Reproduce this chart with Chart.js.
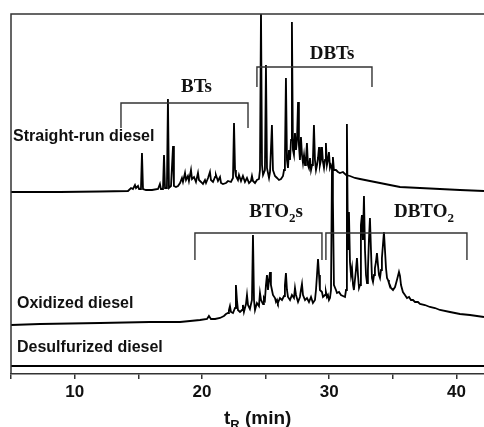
<!DOCTYPE html>
<html>
<head>
<meta charset="utf-8">
<script src="https://cdn.jsdelivr.net/npm/chart.js@4.4.1/dist/chart.umd.min.js"></script>
<style>
html, body { margin: 0; padding: 0; background: #fff; }
#wrap { width: 484px; height: 427px; position: relative; }
</style>
</head>
<body>
<div id="wrap"><canvas id="gc"></canvas></div>
<script>
// Retention time (min) and detector response above each trace's own baseline
const straightRunTime = [5.00, 8.85, 11.99, 14.19, 14.43, 14.58, 14.74, 14.82, 14.98, 15.06,
  15.21, 15.29, 15.37, 15.61, 16.08, 16.55, 16.70, 16.78, 16.94, 17.02,
  17.10, 17.25, 17.33, 17.41, 17.57, 17.73, 17.80, 17.96, 18.12, 18.28,
  18.43, 18.51, 18.67, 18.75, 18.90, 18.98, 19.14, 19.22, 19.38, 19.53,
  19.69, 19.77, 19.93, 20.08, 20.24, 20.32, 20.48, 20.63, 20.71, 20.87,
  21.03, 21.10, 21.26, 21.42, 21.50, 21.65, 21.89, 22.05, 22.28, 22.44,
  22.52, 22.60, 22.67, 22.83, 22.91, 23.07, 23.22, 23.38, 23.54, 23.70,
  23.85, 23.93, 24.01, 24.17, 24.32, 24.48, 24.56, 24.64, 24.72, 24.80,
  24.95, 25.03, 25.11, 25.27, 25.35, 25.50, 25.58, 25.74, 25.90, 26.05,
  26.21, 26.37, 26.45, 26.52, 26.60, 26.68, 26.76, 26.84, 26.92, 27.00,
  27.07, 27.15, 27.23, 27.31, 27.39, 27.47, 27.55, 27.62, 27.70, 27.78,
  27.86, 27.94, 28.02, 28.10, 28.17, 28.25, 28.33, 28.41, 28.49, 28.57,
  28.65, 28.72, 28.80, 28.88, 28.96, 29.04, 29.12, 29.20, 29.27, 29.35,
  29.43, 29.51, 29.59, 29.67, 29.74, 29.82, 29.90, 29.98, 30.06, 30.14,
  30.22, 30.29, 30.37, 30.53, 30.69, 30.84, 31.08, 31.32, 31.63, 32.02,
  32.42, 33.20, 33.99, 34.77, 35.56, 37.13, 38.70, 40.27, 42.16];
const straightRunSignal = [0, 0, 0.5, 1, 4, 3, 7, 4, 6, 3,
  3, 39, 3, 2, 2, 3, 8, 3, 3, 37,
  4, 4, 93, 4, 6, 46, 6, 5, 6, 9,
  14, 10, 19, 12, 16, 11, 22, 13, 15, 10,
  19, 12, 10, 8, 12, 9, 14, 20, 12, 10,
  15, 17, 11, 15, 9, 8, 9, 11, 10, 14,
  69, 22, 16, 12, 17, 11, 16, 10, 14, 9,
  11, 16, 11, 9, 12, 13, 22, 182, 27, 17,
  22, 127, 24, 14, 20, 67, 22, 16, 14, 12,
  13, 16, 22, 32, 114, 32, 24, 42, 32, 52,
  170, 42, 37, 59, 42, 52, 90, 47, 32, 55,
  37, 29, 37, 27, 32, 49, 27, 24, 34, 22,
  27, 32, 67, 32, 22, 27, 34, 45, 27, 32,
  45, 30, 24, 32, 49, 27, 32, 40, 24, 27,
  24, 35, 22, 22, 20, 19, 20, 17, 16, 14,
  13, 11, 9, 7, 5, 4, 3, 2, 1];

const oxidizedTime = [5.00, 7.28, 11.99, 15.92, 18.28, 19.85, 20.40, 20.55, 20.71, 21.03,
  21.42, 21.73, 21.89, 22.05, 22.12, 22.20, 22.28, 22.44, 22.60, 22.67,
  22.75, 22.83, 22.99, 23.15, 23.22, 23.30, 23.46, 23.54, 23.62, 23.77,
  23.93, 24.01, 24.09, 24.17, 24.32, 24.48, 24.56, 24.64, 24.80, 24.87,
  24.95, 25.03, 25.11, 25.19, 25.27, 25.35, 25.42, 25.50, 25.58, 25.74,
  25.82, 25.90, 25.97, 26.13, 26.29, 26.45, 26.52, 26.60, 26.68, 26.76,
  26.92, 27.07, 27.23, 27.31, 27.39, 27.55, 27.70, 27.78, 27.86, 27.94,
  28.10, 28.25, 28.41, 28.57, 28.72, 28.88, 28.96, 29.04, 29.12, 29.20,
  29.27, 29.43, 29.51, 29.67, 29.74, 29.82, 29.90, 29.98, 30.06, 30.14,
  30.22, 30.29, 30.37, 30.53, 30.61, 30.77, 30.92, 31.08, 31.24, 31.32,
  31.39, 31.47, 31.55, 31.63, 31.71, 31.79, 31.87, 31.94, 32.02, 32.10,
  32.18, 32.26, 32.34, 32.42, 32.49, 32.57, 32.65, 32.73, 32.81, 32.89,
  32.97, 33.04, 33.12, 33.20, 33.28, 33.36, 33.44, 33.52, 33.59, 33.67,
  33.75, 33.83, 33.91, 33.99, 34.07, 34.14, 34.22, 34.30, 34.38, 34.46,
  34.54, 34.62, 34.69, 34.77, 34.85, 35.01, 35.17, 35.32, 35.48, 35.56,
  35.64, 35.79, 35.95, 36.11, 36.27, 36.42, 36.58, 36.74, 36.97, 37.13,
  37.52, 37.91, 38.31, 38.70, 39.49, 40.27, 41.06, 42.16];
const oxidizedSignal = [-1, 0, 1, 2, 2, 4, 5, 8, 5, 5,
  6, 8, 10, 11, 14, 18, 12, 11, 16, 39,
  24, 14, 12, 14, 19, 12, 20, 29, 19, 15,
  24, 89, 24, 14, 21, 18, 31, 24, 20, 26,
  24, 39, 49, 34, 44, 52, 39, 34, 29, 26,
  22, 24, 21, 26, 24, 28, 39, 51, 34, 27,
  24, 29, 26, 36, 29, 22, 27, 34, 40, 29,
  24, 26, 22, 27, 21, 24, 34, 49, 65, 49,
  34, 32, 27, 29, 32, 27, 29, 24, 26, 34,
  159, 124, 39, 34, 31, 32, 29, 28, 27, 34,
  200, 74, 112, 62, 49, 56, 39, 34, 44, 54,
  66, 49, 36, 39, 99, 109, 84, 128, 74, 49,
  41, 54, 84, 106, 74, 46, 42, 49, 56, 62,
  71, 59, 49, 46, 54, 66, 79, 92, 74, 56,
  46, 44, 41, 39, 36, 34, 37, 44, 52, 48,
  39, 32, 29, 26, 27, 24, 24, 22, 22, 20,
  19, 17, 16, 14, 12, 10, 9, 7];

const desulfurizedTime = [5.00, 15.00, 25.00, 35.00, 42.16];
const desulfurizedSignal = [0, 0, 0, 0, 0];

const sampleNames = ['Straight-run diesel', 'Oxidized diesel', 'Desulfurized diesel'];

// Compound groups: name (digits are set as subscripts), retention window
const groupNames = ['BTs', 'DBTs', 'BTO2s', 'DBTO2'];
const groupStart = [13.64, 24.32, 19.45, 29.74];
const groupEnd = [23.62, 33.36, 29.43, 40.82];

const xTicks = [5, 10, 15, 20, 25, 30, 35, 40];
const xTickLabels = ['', '10', '', '20', '', '30', '', '40'];

// ---- layout (vertical stacking and annotation placement, in y-axis units) ----
const traceOffset = [182, 50, 8];
const groupLayout = [
  { bar: 271, leg: 246, labelX: 19.57, labelY: 289 },
  { bar: 307, leg: 287, labelX: 30.22, labelY: 322 },
  { bar: 141, leg: 114, labelX: 25.82, labelY: 164 },
  { bar: 141, leg: 114, labelX: 37.44, labelY: 164 }
];
const sampleLabelPos = [ { x: 5.16, y: 237 }, { x: 5.47, y: 70 }, { x: 5.47, y: 26 } ];

const SANS = '"Liberation Sans", Arial, Helvetica, sans-serif';
const SERIF = '"Liberation Serif", "Times New Roman", Times, serif';
const INK = '#111';
const FRAME = '#333';

function makePoints(times, signal, offset) {
  return times.map((t, i) => ({ x: t, y: offset + signal[i] }));
}

// Draws text where digits (or a marked letter) are set as subscripts
function drawRich(ctx, parts, cx, cy, size, family) {
  const big = 'bold ' + size + 'px ' + family;
  const small = 'bold ' + Math.round(size * 0.68) + 'px ' + family;
  let total = 0;
  parts.forEach(p => { ctx.font = p.sub ? small : big; total += ctx.measureText(p.t).width; });
  let x = cx - total / 2;
  ctx.textAlign = 'left';
  ctx.textBaseline = 'alphabetic';
  parts.forEach(p => {
    ctx.font = p.sub ? small : big;
    ctx.fillText(p.t, x, cy + (p.sub ? size * 0.26 : 0));
    x += ctx.measureText(p.t).width;
  });
}

function splitDigits(s) {
  const out = [];
  s.split(/(\d)/).forEach(seg => { if (seg) out.push({ t: seg, sub: /^\d$/.test(seg) }); });
  return out;
}

const annotate = {
  id: 'annotate',
  afterDatasetsDraw(chart) {
    const { ctx, chartArea: a, scales: { x, y } } = chart;
    ctx.save();
    // frame: left and top edges
    ctx.strokeStyle = FRAME;
    ctx.lineWidth = 1.5;
    ctx.beginPath();
    ctx.moveTo(a.left, a.bottom);
    ctx.lineTo(a.left, a.top);
    ctx.lineTo(a.right, a.top);
    ctx.stroke();

    // compound-group brackets
    ctx.strokeStyle = FRAME;
    ctx.lineWidth = 1.4;
    ctx.fillStyle = INK;
    groupNames.forEach((name, i) => {
      const g = groupLayout[i];
      const x0 = x.getPixelForValue(groupStart[i]);
      const x1 = x.getPixelForValue(groupEnd[i]);
      const yb = y.getPixelForValue(g.bar);
      const yl = y.getPixelForValue(g.leg);
      ctx.beginPath();
      ctx.moveTo(x0, yl);
      ctx.lineTo(x0, yb);
      ctx.lineTo(x1, yb);
      ctx.lineTo(x1, yl);
      ctx.stroke();
      drawRich(ctx, splitDigits(name), x.getPixelForValue(g.labelX), y.getPixelForValue(g.labelY) + 7, 19, SERIF);
    });

    // sample names
    ctx.font = 'bold 16px ' + SANS;
    ctx.textAlign = 'left';
    ctx.textBaseline = 'middle';
    sampleNames.forEach((s, i) => {
      ctx.fillText(s, x.getPixelForValue(sampleLabelPos[i].x), y.getPixelForValue(sampleLabelPos[i].y));
    });

    // axis title
    drawRich(ctx, [{ t: 't' }, { t: 'R', sub: true }, { t: ' (min)' }],
      x.getPixelForValue(24.38), a.bottom + 50, 19, SANS);
    ctx.restore();
  }
};

new Chart(document.getElementById('gc'), {
  type: 'scatter',
  data: {
    datasets: [
      { data: makePoints(straightRunTime, straightRunSignal, traceOffset[0]) },
      { data: makePoints(oxidizedTime, oxidizedSignal, traceOffset[1]) },
      { data: makePoints(desulfurizedTime, desulfurizedSignal, traceOffset[2]), borderWidth: 2.2 }
    ].map(d => Object.assign({
      showLine: true, borderColor: '#000', borderWidth: 1.8, pointRadius: 0,
      pointHoverRadius: 0, fill: false, tension: 0
    }, d))
  },
  options: {
    responsive: true,
    maintainAspectRatio: false,
    animation: false,
    devicePixelRatio: 1,
    layout: { padding: { left: 11, top: 14, right: 0, bottom: 0 } },
    plugins: { legend: { display: false }, tooltip: { enabled: false } },
    scales: {
      x: {
        type: 'linear',
        min: 5,
        max: 42.16,
        afterBuildTicks: s => { s.ticks = xTicks.map(v => ({ value: v })); },
        afterFit: s => { s.height = 53; s.paddingLeft = 0; s.paddingRight = 0; },
        ticks: {
          autoSkip: false,
          maxRotation: 0,
          padding: 3,
          color: INK,
          font: { family: SANS, size: 17, weight: 'bold' },
          callback: (v, i) => xTickLabels[i]
        },
        grid: { drawOnChartArea: false, drawTicks: true, tickLength: 5, color: FRAME, lineWidth: 1.5 },
        border: { display: true, color: FRAME, width: 1.5 }
      },
      y: { display: false, min: 0, max: 360 }
    }
  },
  plugins: [annotate]
});
</script>
</body>
</html>
